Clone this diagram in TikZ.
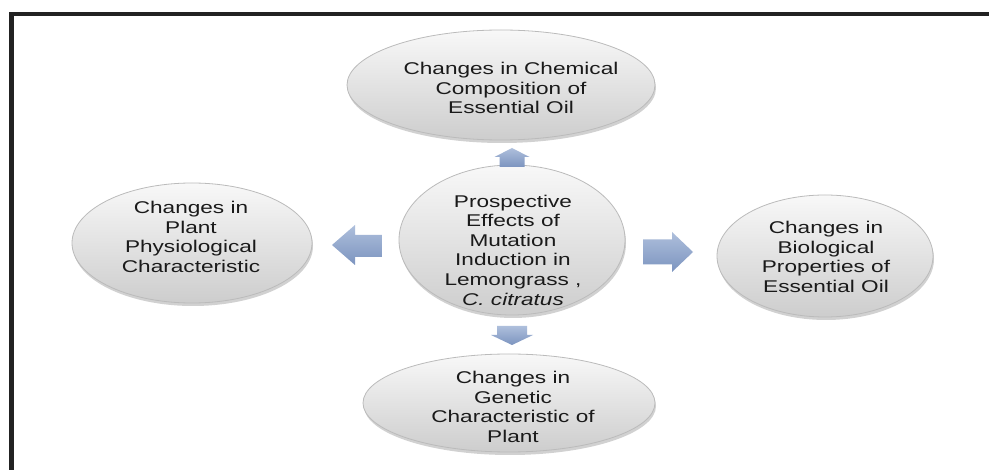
\documentclass[tikz,border=0pt]{standalone}
\usepackage{fontspec}
\setmainfont[FakeStretch=1.33]{Liberation Sans}
\usetikzlibrary{shapes.geometric,shadows}
\definecolor{txt}{HTML}{1A1A1A}
\definecolor{ellTop}{HTML}{F8F8F8}
\definecolor{ellBot}{HTML}{CDCDCD}
\definecolor{ellLine}{HTML}{BBBBBB}
\definecolor{arrTop}{HTML}{AEBFDC}
\definecolor{arrBot}{HTML}{7C94BF}
\definecolor{frame}{HTML}{222222}
\tikzset{
  bubble/.style={ellipse, draw=ellLine, line width=0.8pt, top color=ellTop, bottom color=ellBot,
    drop shadow={shadow xshift=1pt, shadow yshift=-3pt, opacity=0.18, fill=black}},
  label/.style={align=center, text=txt, font=\fontsize{17}{19.6}\selectfont, inner sep=0pt},
  blockarrow/.style={top color=arrTop, bottom color=arrBot, draw=none}
}
\begin{document}
\begin{tikzpicture}[x=1pt,y=-1pt]
\useasboundingbox (0,0) rectangle (989,470);
\fill[white] (0,0) rectangle (989,470);
% frame
\draw[frame, line width=4.5pt] (11.5,470) -- (11.5,14) -- (989,14);
% ellipses
\node[bubble, minimum width=308pt, minimum height=110pt] (top) at (501,85) {};
\node[bubble, minimum width=226pt, minimum height=150pt] (ctr) at (512,240) {};
\node[bubble, minimum width=240pt, minimum height=120pt] (lft) at (192,243) {};
\node[bubble, minimum width=216pt, minimum height=122pt] (rgt) at (825,256) {};
\node[bubble, minimum width=292pt, minimum height=98pt] (bot) at (509,403) {};
% texts
\node[label] (ttop) at (511,88) {Changes in Chemical\\Composition of\\Essential Oil};
\node[label] (tctr) at (513,250) {Prospective\\Effects of\\Mutation\\Induction in\\Lemongrass ,\\\textit{C. citratus}};
\node[label] (tlft) at (191,237) {Changes in\\Plant\\Physiological\\Characteristic};
\node[label] (trgt) at (826,257) {Changes in\\Biological\\Properties of\\Essential Oil};
\node[label] (tbot) at (513,407) {Changes in\\Genetic\\Characteristic of\\Plant};
% block arrows
\path[blockarrow] (512,148) -- (529.5,157) -- (524.5,157) -- (524.5,167) -- (499.5,167) -- (499.5,157) -- (494.5,157) -- cycle;
\path[blockarrow] (512,345) -- (533,335) -- (527,335) -- (527,326) -- (497,326) -- (497,335) -- (491,335) -- cycle;
\path[blockarrow] (332,245) -- (355,225) -- (355,235) -- (382,235) -- (382,257) -- (355,257) -- (355,265) -- cycle;
\path[blockarrow] (693,252) -- (672,232) -- (672,239.5) -- (643,239.5) -- (643,264.5) -- (672,264.5) -- (672,272) -- cycle;
\end{tikzpicture}
\end{document}
